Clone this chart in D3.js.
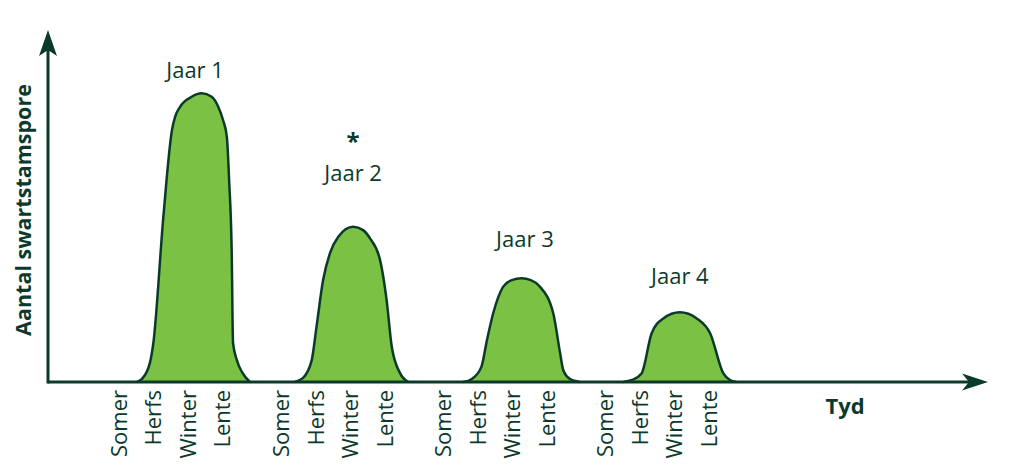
<!DOCTYPE html>
<html>
<head>
<meta charset="utf-8">
<script src="https://cdn.jsdelivr.net/npm/d3@7"></script>
<style>
    body { margin: 0; background: #fff; }
    svg { display: block; font-family: "Open Sans", sans-serif; }
</style>
</head>
<body>
<div id="chart"></div>
<script>
// seasons and years
const seasons = ["Somer", "Herfs", "Winter", "Lente"];
const years = ["Jaar 1", "Jaar 2", "Jaar 3", "Jaar 4"];
const yearLength = 4.7; // in season units, gap included

// [seasons since that year's Somer, spore count]
const jaar1 = [[0.53, 0], [0.68, 0.9], [0.91, 5.6], [1.01, 11.4], [1.30, 48.3], [1.55, 73.7],
    [1.64, 77.5], [1.78, 80.4], [2.12, 83.4], [2.41, 84.4], [2.70, 83.4], [2.89, 80.5],
    [3.03, 76.6], [3.14, 71.7], [3.21, 58.2], [3.28, 38.6], [3.32, 11.4], [3.43, 6.4],
    [3.58, 2.9], [3.81, 0]];
const jaar2 = [[0.41, 0], [0.65, 1.2], [0.90, 6.4], [1.04, 16.2], [1.23, 29.8], [1.43, 37.7],
    [1.67, 42.5], [2.10, 45.4], [2.39, 44.4], [2.59, 42.0], [2.88, 35.7], [3.07, 24.0],
    [3.22, 10.3], [3.46, 2.6], [3.70, 0]];
const jaar3 = [[0.59, 0], [0.84, 0.9], [1.12, 4.5], [1.28, 12.3], [1.46, 20.1], [1.75, 27.9],
    [2.00, 29.8], [2.28, 30.3], [2.55, 29.8], [2.81, 27.9], [3.20, 20.1], [3.40, 8.4],
    [3.49, 3.5], [3.68, 0.9], [3.97, 0]];
const jaar4 = [[0.53, 0], [0.78, 0.6], [1.06, 2.5], [1.35, 14.2], [1.69, 18.6], [2.17, 20.4],
    [2.66, 18.6], [3.05, 14.2], [3.43, 2.5], [3.62, 0.6], [3.81, 0]];
const peaks = [jaar1, jaar2, jaar3, jaar4];

// where each "Jaar" label sits (season units, count units)
const labelT = [2.22, 2.10, 2.38, 2.17];
const labelV = [89.0, 58.8, 39.4, 28.6];
const starred = [false, true, false, false];

const width = 1026, height = 470;
const dark = "#0b3a2b";
const green = "#7bc143";

const svg = d3.select("#chart").append("svg")
    .attr("width", width)
    .attr("height", height);

const x = d3.scaleLinear().domain([0, yearLength * 3 + 3]).range([118.5, 708.5]);
const y = d3.scaleLinear().domain([0, 100]).range([382, 40]);

// peaks
const area = d3.area()
    .x(d => x(d[0]))
    .y0(y(0))
    .y1(d => y(d[1]))
    .curve(d3.curveMonotoneX);
const line = d3.line()
    .x(d => x(d[0]))
    .y(d => y(d[1]))
    .curve(d3.curveMonotoneX);

peaks.forEach(function(p, i) {
    let pts = p.map(d => [i * yearLength + d[0], d[1]]);
    svg.append("path").attr("d", area(pts)).attr("fill", green);
    svg.append("path").attr("d", line(pts))
        .attr("fill", "none")
        .attr("stroke", dark)
        .attr("stroke-width", 2.5);
});

// year labels
svg.selectAll(".jaar")
    .data(years).enter()
    .append("text")
    .attr("class", "jaar")
    .attr("x", (d, i) => x(i * yearLength + labelT[i]))
    .attr("y", (d, i) => y(labelV[i]))
    .attr("text-anchor", "middle")
    .attr("fill", dark)
    .style("font-size", "22px")
    .text(d => d);

svg.selectAll(".star")
    .data(years.filter((d, i) => starred[i])).enter()
    .append("text")
    .attr("class", "star")
    .attr("x", d => { let i = years.indexOf(d); return x(i * yearLength + labelT[i]); })
    .attr("y", d => y(labelV[years.indexOf(d)]) - 31)
    .attr("text-anchor", "middle")
    .attr("fill", dark)
    .style("font-size", "24px")
    .style("font-weight", "bold")
    .text("*");

// season ticks
const tickT = [], tickLabels = [];
years.forEach(function(yr, i) {
    seasons.forEach(function(s, j) {
        tickT.push(i * yearLength + j);
        tickLabels.push(s);
    });
});

const gx = svg.append("g")
    .attr("transform", "translate(0," + y(0) + ")")
    .call(d3.axisBottom(x).tickValues(tickT).tickFormat((d, i) => tickLabels[i]).tickSize(0));
gx.select(".domain").remove();
gx.selectAll("text")
    .attr("transform", "rotate(-90)")
    .attr("text-anchor", "end")
    .attr("x", -8)
    .attr("y", 0)
    .attr("dy", "0.36em")
    .attr("fill", dark)
    .style("font-family", "'Open Sans', sans-serif")
    .style("font-size", "22px");

// axes with arrows
const x0 = 48;
svg.append("path")
    .attr("d", `M${x0},${y(0)}H980`)
    .attr("stroke", dark).attr("stroke-width", 3);
svg.append("path")
    .attr("d", `M${x0},${y(0) + 1.5}V38`)
    .attr("stroke", dark).attr("stroke-width", 3);
svg.append("path")
    .attr("d", `M988,${y(0)}L962,${y(0) - 8.5}L969,${y(0)}L962,${y(0) + 8.5}Z`)
    .attr("fill", dark);
svg.append("path")
    .attr("d", `M${x0},30L${x0 + 9},56L${x0},50L${x0 - 9},56Z`)
    .attr("fill", dark);

// axis titles
svg.append("text")
    .attr("x", 845).attr("y", 414)
    .attr("text-anchor", "middle")
    .attr("fill", dark)
    .style("font-size", "22px")
    .style("font-weight", "bold")
    .text("Tyd");

svg.append("text")
    .attr("transform", "translate(23,210)rotate(-90)")
    .attr("text-anchor", "middle")
    .attr("dy", "0.36em")
    .attr("fill", dark)
    .style("font-size", "21.5px")
    .style("font-weight", "bold")
    .text("Aantal swartstamspore");
</script>
</body>
</html>
